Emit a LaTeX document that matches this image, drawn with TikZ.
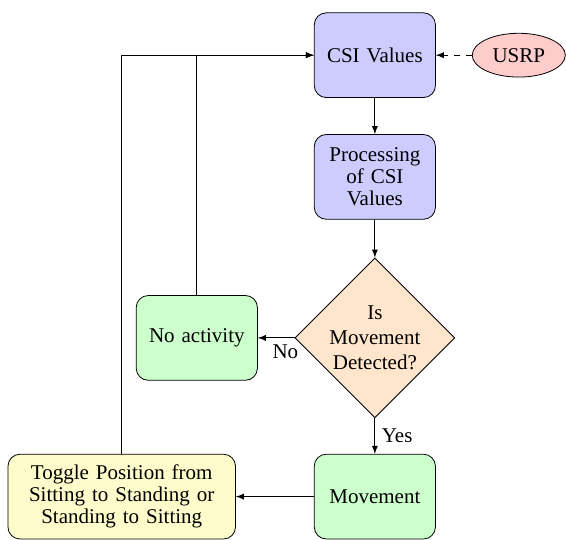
\documentclass[tikz,border=0pt]{standalone}
\usepackage{fontspec}
\setmainfont{Liberation Serif}
\usetikzlibrary{shapes.geometric,arrows}

\begin{document}
\begin{tikzpicture}[>=latex, font=\fontsize{10.5pt}{11pt}\selectfont,
    box/.style={draw, rounded corners=6pt, align=center, text width=1.8cm,
        minimum width=2.13cm, minimum height=1.49cm},
    widebox/.style={box, text width=3.7cm, minimum width=4cm},
    decision/.style={draw, diamond, aspect=1, align=center, inner sep=0pt,
        minimum width=2.81cm, minimum height=2.81cm},
    source/.style={draw, ellipse, minimum width=1.63cm, minimum height=0.77cm}]
    \useasboundingbox (0,0) rectangle (9.95,9.49);

    % nodes
    \node[box, fill=blue!20] (csi) at (6.59,8.52) {CSI Values};
    \node[source, fill=red!20] (usrp) at (9.12,8.52) {USRP};
    \node[box, fill=blue!20] (proc) at (6.59,6.38) {Processing of CSI Values};
    \node[decision, fill=orange!20] (dec) at (6.59,3.55)
        {Is\\[1.5pt]Movement\\[1.5pt]Detected?};
    \node[box, fill=green!20] (noact) at (3.46,3.55) {No activity};
    \node[box, fill=green!20] (mov) at (6.59,0.76) {Movement};
    \node[widebox, fill=yellow!20] (toggle) at (2.14,0.76)
        {Toggle Position from Sitting to Standing or Standing to Sitting};

    % arrows
    \draw[->, dashed] (usrp) -- (csi);
    \draw[->] (csi) -- (proc);
    \draw[->] (proc) -- (dec);
    \draw[->] (dec) -- node[near start, below] {No} (noact);
    \draw[->] (dec) -- node[right] {Yes} (mov);
    \draw[->] (mov) -- (toggle);

    % loops back
    \draw[->] (noact) |- (csi);
    \draw[->] (toggle) |- (csi);

\end{tikzpicture}
\end{document}
